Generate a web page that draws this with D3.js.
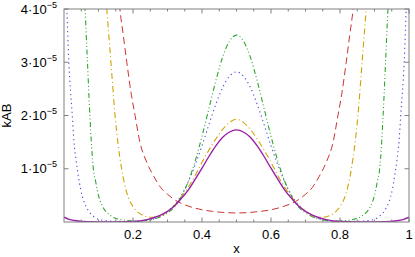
<!DOCTYPE html>
<html><head><meta charset="utf-8">
<script src="https://cdn.jsdelivr.net/npm/d3@7"></script>
<style>
body{margin:0;background:#fff;}
text{font-family:"Liberation Sans",Arial,sans-serif;font-size:13px;fill:#000;}
</style></head>
<body><svg id="c" width="415" height="257"></svg>
<script>
// values are in units of 1e-5
const purpleX = [0,0.015,0.04,0.07,0.1,0.15,0.2,0.22,0.24,0.26,0.28,0.30,0.32,0.34,0.36,0.38,0.40,0.42,0.44,0.46,0.48,0.50,0.52,0.54,0.56,0.58,0.60,0.62,0.64,0.66,0.68,0.70,0.72,0.74,0.76,0.78,0.80,0.85,0.90,0.93,0.96,0.985,1];
const purpleY = [0.09,0.05,0.02,0.005,0.002,0.003,0.01,0.02,0.045,0.08,0.13,0.20,0.30,0.44,0.60,0.80,1.01,1.23,1.43,1.59,1.69,1.73,1.69,1.59,1.43,1.23,1.01,0.80,0.60,0.44,0.30,0.20,0.13,0.08,0.045,0.02,0.01,0.003,0.002,0.005,0.02,0.05,0.09];

const yellowX = [0.118,0.124,0.136,0.148,0.157,0.167,0.182,0.20,0.215,0.23,0.25,0.27,0.29,0.30,0.32,0.34,0.36,0.38,0.40,0.42,0.44,0.46,0.48,0.50,0.52,0.54,0.56,0.58,0.60,0.62,0.64,0.66,0.68,0.70,0.71,0.73,0.75,0.77,0.785,0.80,0.818,0.833,0.843,0.852,0.864,0.876,0.882];
const yellowY = [4.5,4.0,3.0,2.0,1.45,1.0,0.55,0.29,0.18,0.12,0.09,0.10,0.15,0.20,0.31,0.47,0.65,0.87,1.12,1.35,1.56,1.74,1.87,1.93,1.87,1.74,1.56,1.35,1.12,0.87,0.65,0.47,0.31,0.20,0.15,0.10,0.09,0.12,0.18,0.29,0.55,1.0,1.45,2.0,3.0,4.0,4.5];

const greenX = [0.055,0.061,0.068,0.075,0.085,0.092,0.10,0.112,0.122,0.133,0.145,0.16,0.18,0.20,0.22,0.24,0.26,0.28,0.30,0.32,0.34,0.36,0.38,0.40,0.42,0.44,0.46,0.48,0.50,0.52,0.54,0.56,0.58,0.60,0.62,0.64,0.66,0.68,0.70,0.72,0.74,0.76,0.78,0.80,0.82,0.84,0.855,0.867,0.878,0.888,0.90,0.908,0.915,0.925,0.932,0.939,0.945];
const greenY = [4.6,4.0,3.0,2.0,1.0,0.75,0.50,0.29,0.19,0.13,0.08,0.05,0.03,0.02,0.02,0.03,0.05,0.10,0.17,0.28,0.48,0.76,1.14,1.61,2.13,2.65,3.10,3.40,3.51,3.40,3.10,2.65,2.13,1.61,1.14,0.76,0.48,0.28,0.17,0.10,0.05,0.03,0.02,0.02,0.03,0.05,0.08,0.13,0.19,0.29,0.50,0.75,1.0,2.0,3.0,4.0,4.6];

const blueX = [0.004,0.008,0.014,0.024,0.029,0.035,0.042,0.048,0.058,0.07,0.085,0.10,0.12,0.15,0.18,0.20,0.22,0.24,0.26,0.28,0.30,0.32,0.34,0.36,0.38,0.40,0.42,0.44,0.46,0.48,0.50,0.52,0.54,0.56,0.58,0.60,0.62,0.64,0.66,0.68,0.70,0.72,0.74,0.76,0.78,0.80,0.82,0.85,0.88,0.90,0.915,0.93,0.942,0.952,0.958,0.965,0.971,0.976,0.986,0.992,0.996];
const blueY = [4.6,4.0,3.0,2.0,1.5,1.16,0.85,0.62,0.38,0.22,0.11,0.05,0.025,0.012,0.01,0.012,0.02,0.03,0.06,0.11,0.20,0.32,0.50,0.75,1.07,1.43,1.83,2.21,2.53,2.74,2.82,2.74,2.53,2.21,1.83,1.43,1.07,0.75,0.50,0.32,0.20,0.11,0.06,0.03,0.02,0.012,0.01,0.012,0.025,0.05,0.11,0.22,0.38,0.62,0.85,1.16,1.5,2.0,3.0,4.0,4.6];

const redX = [0.155,0.162,0.172,0.182,0.195,0.206,0.22,0.24,0.26,0.28,0.30,0.32,0.34,0.36,0.38,0.40,0.43,0.46,0.50,0.54,0.57,0.60,0.62,0.64,0.66,0.68,0.70,0.72,0.74,0.76,0.78,0.794,0.805,0.818,0.828,0.838,0.845];
const redY = [4.5,4.0,3.5,3.0,2.4,2.0,1.5,1.12,0.86,0.65,0.52,0.42,0.35,0.30,0.26,0.23,0.20,0.18,0.17,0.18,0.20,0.23,0.26,0.30,0.35,0.42,0.52,0.65,0.86,1.12,1.5,2.0,2.4,3.0,3.5,4.0,4.5];

const xTicks = [0.2,0.4,0.6,0.8,1];
const xTickLabels = ["0.2","0.4","0.6","0.8","1"];
const yTicks = [1,2,3,4];
const yTickMantissa = ["1","2","3","4"];

const W=415,H=257;
const m={l:64,r:6,t:9,b:35};
const svg=d3.select("#c");
const x=d3.scaleLinear().domain([0,1]).range([m.l,W-m.r]);
const y=d3.scaleLinear().domain([0,4]).range([H-m.b,m.t]);

svg.append("defs").append("clipPath").attr("id","clip").append("rect")
  .attr("x",m.l).attr("y",m.t).attr("width",W-m.r-m.l).attr("height",H-m.b-m.t);

const series=[
  {xs:redX, ys:redY, color:"#cc3333", dash:"7,4", w:1},
  {xs:blueX, ys:blueY, color:"#5050dd", dash:"1.3,3.2", w:1.1},
  {xs:greenX, ys:greenY, color:"#2fa52f", dash:"5,2.5,1,2.5,1,2.5", w:1.1},
  {xs:yellowX, ys:yellowY, color:"#cfa300", dash:"6,3,1,3", w:1.1},
  {xs:purpleX, ys:purpleY, color:"#9a1fa6", dash:null, w:1.4}
];
const line=d3.line().x(d=>x(d[0])).y(d=>y(d[1])).curve(d3.curveMonotoneX);
const g=svg.append("g").attr("clip-path","url(#clip)");
series.forEach(s=>{
  const pts=s.xs.map((v,i)=>[v,s.ys[i]]);
  g.append("path").attr("d",line(pts)).attr("fill","none")
    .attr("stroke",s.color).attr("stroke-width",s.w)
    .attr("stroke-dasharray",s.dash);
});

// frame and ticks
const fc="#808080";
const ax=svg.append("g");
ax.append("rect").attr("x",m.l).attr("y",m.t).attr("width",W-m.r-m.l).attr("height",H-m.b-m.t)
  .attr("fill","none").attr("stroke",fc).attr("stroke-width",1);
const minor=d3.range(1,20).map(i=>i*0.05).filter(v=>Math.abs(v*5-Math.round(v*5))>1e-6);
minor.forEach(v=>{
  ax.append("line").attr("x1",x(v)).attr("x2",x(v)).attr("y1",y(0)).attr("y2",y(0)-2.5).attr("stroke",fc);
  ax.append("line").attr("x1",x(v)).attr("x2",x(v)).attr("y1",y(4)).attr("y2",y(4)+2.5).attr("stroke",fc);
});
xTicks.forEach((v,i)=>{
  ax.append("line").attr("x1",x(v)).attr("x2",x(v)).attr("y1",y(0)).attr("y2",y(0)-4.5).attr("stroke",fc);
  ax.append("line").attr("x1",x(v)).attr("x2",x(v)).attr("y1",y(4)).attr("y2",y(4)+4.5).attr("stroke",fc);
  svg.append("text").attr("x",x(v)).attr("y",y(0)+16.5).attr("text-anchor","middle").text(xTickLabels[i]);
});
yTicks.forEach((v,i)=>{
  ax.append("line").attr("x1",x(0)).attr("x2",x(0)+4.5).attr("y1",y(v)).attr("y2",y(v)).attr("stroke",fc);
  ax.append("line").attr("x1",x(1)).attr("x2",x(1)-4.5).attr("y1",y(v)).attr("y2",y(v)).attr("stroke",fc);
  const t=svg.append("text").attr("x",x(0)-7).attr("y",y(v)+4.5).attr("text-anchor","end");
  t.append("tspan").text(yTickMantissa[i]+"\u00b710");
  t.append("tspan").attr("dy",-6).attr("font-size","9px").text("\u22125");
});
svg.append("text").attr("x",x(0.5)).attr("y",H-4).attr("text-anchor","middle").text("x");
svg.append("text").attr("transform",`translate(11,${(y(0)+y(4))/2}) rotate(-90)`).attr("text-anchor","middle").text("kAB");
</script></body></html>
